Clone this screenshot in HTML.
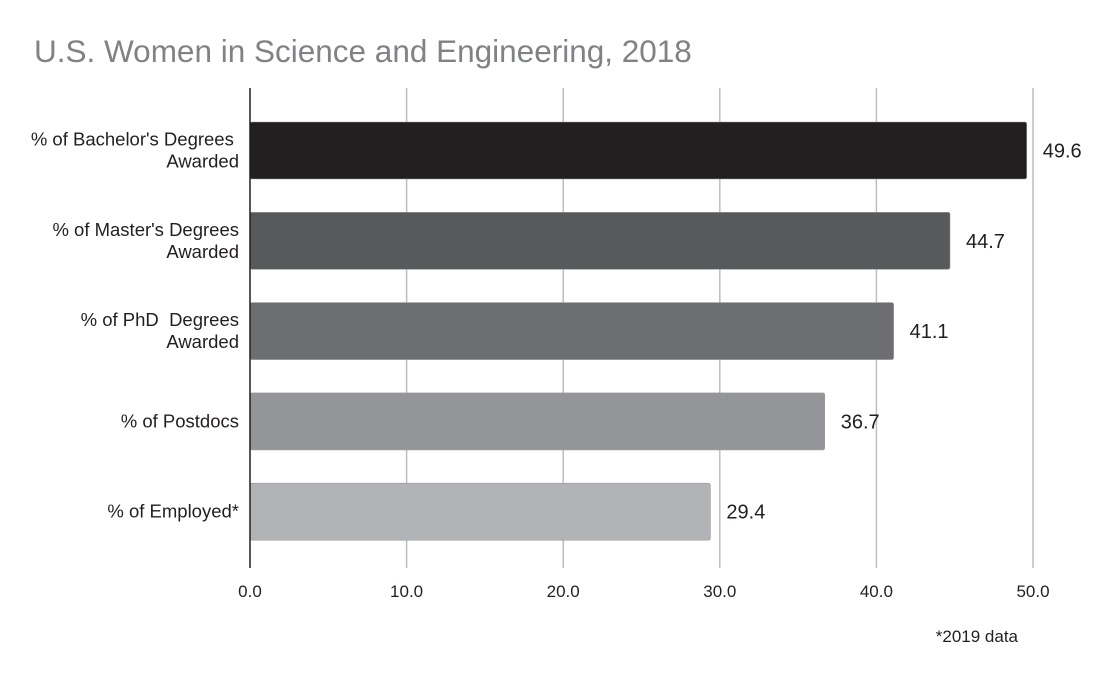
<!DOCTYPE html>
<html><head><meta charset="utf-8"><style>
body{margin:0;background:#fff;}
svg text{font-family:"Liberation Sans",sans-serif;}
</style></head><body>
<svg width="1100" height="680" viewBox="0 0 1100 680">
<text x="34" y="62" font-size="31.5" fill="#808285">U.S. Women in Science and Engineering, 2018</text>
<g id="grid"></g>
<g id="bars"></g>
<g id="labels"></g>
<text x="1018" y="642" font-size="17" fill="#231f20" text-anchor="end">*2019 data</text>
</svg>
<script>
const categories = [["% of Bachelor's Degrees ","Awarded"],["% of Master's Degrees","Awarded"],["% of PhD  Degrees","Awarded"],["% of Postdocs"],["% of Employed*"]];
const values = [49.6, 44.7, 41.1, 36.7, 29.4];
const ticks = [0, 10, 20, 30, 40, 50];
const colors = ["#231f20","#58595b","#6d6e71","#939598","#b1b3b6"];
const NS="http://www.w3.org/2000/svg";
const x0=250, x1=1033, yTop=88, yBot=568, maxV=50;
const xs=v=>x0+(x1-x0)*v/maxV;
const band=90.3;
const bandY=i=>122+band*i;
function mk(tag,attrs,parent){const e=document.createElementNS(NS,tag);for(const k in attrs)e.setAttribute(k,attrs[k]);document.getElementById(parent).appendChild(e);return e;}
ticks.forEach(t=>{
  if(t>0){const l=mk('line',{x1:xs(t),x2:xs(t),y1:yTop,y2:yBot,stroke:'#bcbec0','stroke-width':1.5},'grid');
  
  }
  const tx=mk('text',{x:xs(t),y:597,'font-size':17,fill:'#231f20','text-anchor':'middle'},'labels');
  tx.textContent=t.toFixed(1);
  
  
});
values.forEach((v,i)=>{
  const y=bandY(i), h=57;
  const r=mk('rect',{x:x0,y:y,width:xs(v)-x0,height:h,rx:2,fill:colors[i],stroke:'#9a9a9a','stroke-width':0.6},'bars');
  
  
  const cy=y+h/2;
  const vt=mk('text',{x:xs(v)+16,y:cy+7,'font-size':20,fill:'#231f20'},'labels');
  vt.textContent=v.toFixed(1);
  
  
  const lines=categories[i];
  lines.forEach((s,j)=>{
    const off=lines.length===2?(j===0?-5:17):6;
    const ct=mk('text',{x:239,y:cy+off,'font-size':18.5,fill:'#231f20','text-anchor':'end'},'labels');
    ct.setAttribute('xml:space','preserve');
    ct.style.whiteSpace='pre';
    ct.textContent=s;
    
    
  });
});
const ax=mk('line',{x1:x0,x2:x0,y1:yTop,y2:yBot,stroke:'#231f20','stroke-width':1.5},'bars');


</script>
</body></html>
